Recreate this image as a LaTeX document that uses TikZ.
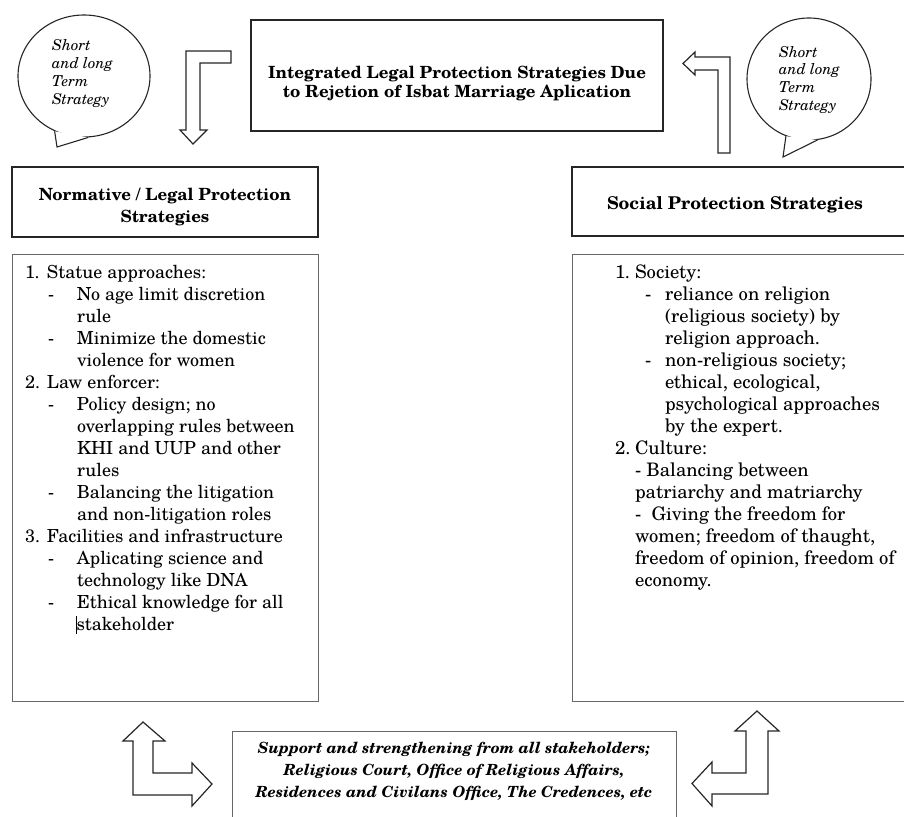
\documentclass[tikz,border=0pt]{standalone}
\usepackage{fontspec}
\setmainfont{TeX Gyre Schola}
\usetikzlibrary{shapes.geometric}
\newcommand{\bodyfont}{\fontsize{18}{22}\selectfont}
\newcommand{\rbodyfont}{\fontsize{18.6}{22}\selectfont}
\newcommand{\titlefont}{\bfseries\fontsize{16.8}{19.5}\selectfont}
\newcommand{\headfont}{\bfseries\fontsize{16.8}{22}\selectfont}
\newcommand{\rheadfont}{\bfseries\fontsize{17.6}{22}\selectfont}
\newcommand{\bubfont}{\itshape\fontsize{15}{17.8}\selectfont}
\newcommand{\botfont}{\bfseries\itshape\fontsize{15.4}{22}\selectfont}
\tikzset{
  hbox/.style={draw=black!85, line width=1.3pt, inner sep=0pt},
  lbox/.style={draw=black!60, line width=1pt, inner sep=0pt},
  blockarrow/.style={draw=black!85, line width=1.2pt, fill=white, line join=miter},
  bubble/.style={draw=black!85, line width=1.1pt, ellipse, inner sep=0pt},
  txt/.style={inner sep=0pt, outer sep=0pt},
}
\begin{document}
\begin{tikzpicture}[x=1pt, y=-1pt]
\useasboundingbox (0,0) rectangle (904,816);
\clip (0,0) rectangle (904,816);
% boxes
\node[hbox, minimum width=412pt, minimum height=111pt] (title) at (457,75.5) {};
\node[hbox, minimum width=306pt, minimum height=70pt] (lhead) at (165,202) {};
\node[hbox, minimum width=340pt, minimum height=69pt] (rhead) at (742,201.5) {};
\node[lbox, minimum width=306pt, minimum height=447pt] (llist) at (165,477.5) {};
\node[lbox, minimum width=340pt, minimum height=447pt] (rlist) at (742,477.5) {};
\node[lbox, minimum width=444pt, minimum height=120pt] (bottom) at (454,791) {};
% texts
\node[txt, anchor=base] (titletext) at (457,78) {\parbox[t]{410pt}{\centering\titlefont
  Integrated Legal Protection Strategies Due\\to Rejetion of Isbat Marriage Aplication}};
\node[txt, anchor=base] (lheadtext) at (165,200) {\parbox[t]{300pt}{\centering\headfont
  Normative / Legal Protection\\Strategies}};
\node[txt, anchor=base] (rheadtext) at (735,209) {\parbox[t]{300pt}{\centering\rheadfont
  Social Protection Strategies}};
\node[txt, anchor=base] (bottext) at (454,753) {\parbox[t]{440pt}{\centering\botfont
  Support and strengthening from all stakeholders;\\
  Religious Court, Office of Religious Affairs,\\
  Residences and Civilans Office, The Credences, etc}};
\node[txt, anchor=base west] (llisttext) at (25,278) {\parbox[t]{290pt}{\raggedright\bodyfont
  \makebox[22pt][l]{1.}Statue approaches:\\
  \hspace*{23pt}\makebox[29pt][l]{-}No age limit discretion\\
  \hspace*{52pt}rule\\
  \hspace*{23pt}\makebox[29pt][l]{-}Minimize the domestic\\
  \hspace*{52pt}violence for women\\
  \makebox[22pt][l]{2.}Law enforcer:\\
  \hspace*{23pt}\makebox[29pt][l]{-}Policy design; no\\
  \hspace*{52pt}overlapping rules between\\
  \hspace*{52pt}KHI and UUP and other\\
  \hspace*{52pt}rules\\
  \hspace*{23pt}\makebox[29pt][l]{-}Balancing the litigation\\
  \hspace*{52pt}and non-litigation roles\\
  \makebox[22pt][l]{3.}Facilities and infrastructure\\
  \hspace*{23pt}\makebox[29pt][l]{-}Aplicating science and\\
  \hspace*{52pt}technology like DNA\\
  \hspace*{23pt}\makebox[29pt][l]{-}Ethical knowledge for all\\
  \hspace*{51pt}\rule[-4pt]{0.7pt}{18pt}stakeholder}};
\node[txt, anchor=base west] (rlisttext) at (615,278) {\parbox[t]{290pt}{\raggedright\rbodyfont
  \makebox[20pt][l]{1.}Society:\\
  \hspace*{30pt}\makebox[20pt][l]{-}reliance on religion\\
  \hspace*{50pt}(religious society) by\\
  \hspace*{50pt}religion approach.\\
  \hspace*{30pt}\makebox[20pt][l]{-}non-religious society;\\
  \hspace*{50pt}ethical, ecological,\\
  \hspace*{50pt}psychological approaches\\
  \hspace*{50pt}by the expert.\\
  \makebox[20pt][l]{2.}Culture:\\
  \hspace*{20pt}- Balancing between\\
  \hspace*{20pt}patriarchy and matriarchy\\
  \hspace*{20pt}-~ Giving the freedom for\\
  \hspace*{20pt}women; freedom of thaught,\\
  \hspace*{20pt}freedom of opinion, freedom of\\
  \hspace*{20pt}economy.}};
% bubbles
\node[bubble, minimum width=132pt, minimum height=122pt] (bubL) at (84,76) {};
\coordinate (tipL) at (57,147);
\fill[white] (bubL.-118) -- (tipL) -- (bubL.-86) -- cycle;
\draw[draw=black!85, line width=1.1pt, line join=miter] (bubL.-118) -- (tipL) -- (bubL.-86);
\node[txt, anchor=base west] (bubLtext) at (52,51) {\parbox[t]{80pt}{\raggedright\bubfont
  Short\\and long\\Term\\Strategy}};
\node[bubble, minimum width=124pt, minimum height=122pt] (bubR) at (809,79) {};
\coordinate (tipR) at (783,157);
\fill[white] (bubR.-112) -- (tipR) -- (bubR.-82) -- cycle;
\draw[draw=black!85, line width=1.1pt, line join=miter] (bubR.-112) -- (tipR) -- (bubR.-82);
\node[txt, anchor=base west] (bubRtext) at (779,57) {\parbox[t]{80pt}{\raggedright\bubfont
  Short\\and long\\Term\\Strategy}};
% block arrows
\draw[blockarrow] (231,51) -- (186,51) -- (186,130) -- (180,130) -- (193,144) -- (207,130)
  -- (200,130) -- (200,63) -- (231,63) -- cycle;
\draw[blockarrow] (730,153) -- (730,57) -- (695,57) -- (695,52) -- (683,63.5) -- (695,75)
  -- (695,70) -- (718,70) -- (718,153) -- cycle;
\draw[blockarrow] (143,722) -- (165,741) -- (153,741) -- (153,773) -- (192,773) -- (192,763)
  -- (212,784) -- (192,806) -- (192,795) -- (133,795) -- (133,741) -- (123,741) -- cycle;
\draw[blockarrow] (757,711) -- (779,731) -- (768,731) -- (768,794) -- (712,794) -- (712,806)
  -- (692,783.5) -- (712,762) -- (712,773) -- (746,773) -- (746,731) -- (735,731) -- cycle;
\end{tikzpicture}
\end{document}
